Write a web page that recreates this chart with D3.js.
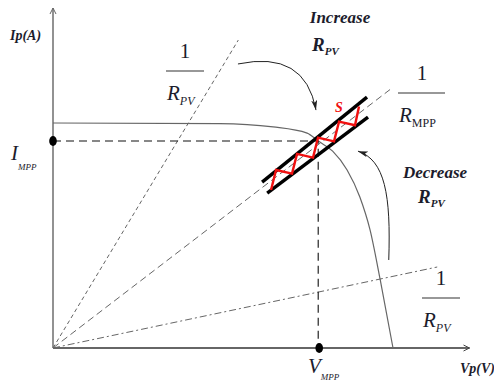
<!DOCTYPE html>
<html>
<head>
<meta charset="utf-8">
<script src="https://cdn.jsdelivr.net/npm/d3@7"></script>
<style>
  body { margin: 0; background: #fff; }
  svg { display: block; font-family: "Liberation Serif", "Times New Roman", serif; }
</style>
</head>
<body>
<svg id="chart" width="494" height="383"></svg>
<script>
// P-V operating curve (V in volts, I in amps)
const ivCurve = [[0, 8.0], [19.6, 7.98], [25.9, 7.86], [29.9, 7.64], [31.2, 7.36], [32.9, 7.0],
                 [34.6, 6.33], [36.1, 5.37], [37.3, 4.2], [38.5, 2.42], [40, 0]];
const mpp = [31.2, 7.36];
// load lines 1/R through the origin: far end of each
const loadLineEnds = [[21.8, 10.95], [39.65, 9.19], [45.2, 2.88]];
// the band around the MPP line and the zigzag of the tracker
const bandUpper = [[24.6, 5.9], [36.94, 8.92]];
const bandLower = [[25.2, 5.51], [37.06, 8.21]];
const zigzag = [[25.65, 5.62], [26.24, 6.33], [28.12, 6.2], [28.71, 6.9], [30.59, 6.77],
                [31.18, 7.48], [33.06, 7.35], [33.65, 8.05], [35.53, 7.92], [36.0, 8.59]];
// curved arrows
const increaseArrow = [[21.76, 10.1], [29.65, 10.6], [30.94, 8.46]];
const decreaseArrow = [[39.5, 3.13], [39.76, 5.44], [39.06, 6.68], [35.88, 7.0]];

const svg = d3.select('#chart');
const x = d3.scaleLinear().domain([0, 49]).range([53, 469.5]);
const y = d3.scaleLinear().domain([0, 12.09]).range([348, 8]);
const ink = '#1c1c2c';

const defs = svg.append('defs');
defs.append('marker')
    .attr('id', 'head')
    .attr('viewBox', '0 0 10 6')
    .attr('refX', 10).attr('refY', 3)
    .attr('markerUnits', 'userSpaceOnUse')
    .attr('markerWidth', 10).attr('markerHeight', 6)
    .attr('orient', 'auto')
  .append('path')
    .attr('d', 'M0,0 L10,3 L0,6 L2.5,3 Z')
    .attr('fill', '#222');

// axes
svg.append('line')
    .attr('x1', x(0)).attr('y1', y(0)).attr('x2', x(0)).attr('y2', y(12.09))
    .attr('stroke', '#777').attr('stroke-width', 1.6);
svg.append('path')
    .attr('d', `M${x(0) - 3},${y(12.09) + 6} L${x(0)},${y(12.09)} L${x(0) + 3},${y(12.09) + 6}`)
    .attr('fill', 'none').attr('stroke', '#666').attr('stroke-width', 1);
svg.append('line')
    .attr('x1', x(0)).attr('y1', y(0)).attr('x2', x(49)).attr('y2', y(0))
    .attr('stroke', '#333').attr('stroke-width', 1.4);
svg.append('path')
    .attr('d', `M${x(49) - 6},${y(0) - 3} L${x(49)},${y(0)} L${x(49) - 6},${y(0) + 3}`)
    .attr('fill', 'none').attr('stroke', '#444').attr('stroke-width', 1);

// load lines
const lineDash = ['4,3', '7,4', '7,3,2,3'];
svg.append('g')
  .selectAll('line')
  .data(loadLineEnds)
  .join('line')
    .attr('x1', x(0)).attr('y1', y(0))
    .attr('x2', d => x(d[0])).attr('y2', d => y(d[1]))
    .attr('stroke', '#666').attr('stroke-width', 1)
    .attr('stroke-dasharray', (d, i) => lineDash[i]);

// I-V curve
svg.append('path')
    .datum(ivCurve)
    .attr('d', d3.line().x(d => x(d[0])).y(d => y(d[1])).curve(d3.curveMonotoneX))
    .attr('fill', 'none').attr('stroke', '#666').attr('stroke-width', 1.2);

// MPP guides
svg.append('path')
    .attr('d', `M${x(0)},${y(mpp[1])} H${x(mpp[0])} V${y(0)}`)
    .attr('fill', 'none').attr('stroke', '#111').attr('stroke-width', 1.1)
    .attr('stroke-dasharray', '8,5');
svg.append('ellipse').attr('cx', x(0)).attr('cy', y(mpp[1])).attr('rx', 3.8).attr('ry', 5).attr('fill', '#000');
svg.append('ellipse').attr('cx', x(mpp[0]) + 1).attr('cy', y(0)).attr('rx', 3.8).attr('ry', 5).attr('fill', '#000');

// band + zigzag
svg.append('g')
  .selectAll('line')
  .data([bandUpper, bandLower])
  .join('line')
    .attr('x1', d => x(d[0][0])).attr('y1', d => y(d[0][1]))
    .attr('x2', d => x(d[1][0])).attr('y2', d => y(d[1][1]))
    .attr('stroke', '#000').attr('stroke-width', 3.4).attr('stroke-linecap', 'butt');
svg.append('path')
    .datum(zigzag)
    .attr('d', d3.line().x(d => x(d[0])).y(d => y(d[1])))
    .attr('fill', 'none').attr('stroke', '#f01010').attr('stroke-width', 2.4)
    .attr('stroke-linejoin', 'miter');

// curved arrows
const p1 = d3.path();
p1.moveTo(x(increaseArrow[0][0]), y(increaseArrow[0][1]));
p1.quadraticCurveTo(x(increaseArrow[1][0]), y(increaseArrow[1][1]), x(increaseArrow[2][0]), y(increaseArrow[2][1]));
svg.append('path').attr('d', p1.toString())
    .attr('fill', 'none').attr('stroke', '#222').attr('stroke-width', 1).attr('marker-end', 'url(#head)');
const p2 = d3.path();
p2.moveTo(x(decreaseArrow[0][0]), y(decreaseArrow[0][1]));
p2.bezierCurveTo(x(decreaseArrow[1][0]), y(decreaseArrow[1][1]), x(decreaseArrow[2][0]), y(decreaseArrow[2][1]),
                 x(decreaseArrow[3][0]), y(decreaseArrow[3][1]));
svg.append('path').attr('d', p2.toString())
    .attr('fill', 'none').attr('stroke', '#222').attr('stroke-width', 1).attr('marker-end', 'url(#head)');

// text helpers
function label(tx, ty, main, sub, opt) {
  const t = svg.append('text').attr('x', tx).attr('y', ty)
      .attr('fill', ink)
      .attr('font-size', opt.size)
      .attr('font-style', opt.italic ? 'italic' : 'normal')
      .attr('font-weight', opt.bold ? 'bold' : 'normal')
      .attr('text-anchor', opt.anchor || 'start');
  t.append('tspan').text(main);
  if (sub) {
    t.append('tspan').attr('dy', opt.subDy || 5).attr('font-size', opt.subSize)
      .attr('font-style', opt.subItalic === false ? 'normal' : 'italic')
      .text(sub);
  }
  return t;
}
function fraction(cx, lineY, x1, x2, den, sub, subItalic) {
  svg.append('text').attr('x', cx).attr('y', lineY - 13).attr('text-anchor', 'middle')
      .attr('font-size', 21).attr('fill', ink).text('1');
  svg.append('line').attr('x1', x1).attr('x2', x2).attr('y1', lineY).attr('y2', lineY)
      .attr('stroke', '#333').attr('stroke-width', 1.2);
  label(x1 + 1, lineY + 29, den, sub, {size: 21, italic: true, subSize: 12, subDy: 5, subItalic});
}

label(10, 40, 'Ip(A)', null, {size: 14, italic: true, bold: true});
label(11, 160, 'I', 'MPP', {size: 21, italic: true, subSize: 9, subDy: 10});
label(308, 373, 'V', 'MPP', {size: 21, italic: true, subSize: 9, subDy: 7});
label(460, 373, 'Vp(V)', null, {size: 14, italic: true, bold: true});

fraction(185, 71, 166, 204, 'R', 'PV');
fraction(422, 93, 398, 445, 'R', 'MPP', false);
fraction(441, 298, 422, 460, 'R', 'PV');

label(340, 23, 'Increase', null, {size: 17, italic: true, bold: true, anchor: 'middle'});
label(312, 51, 'R', 'PV', {size: 19, italic: true, bold: true, subSize: 11, subDy: 4});
label(435, 178, 'Decrease', null, {size: 17, italic: true, bold: true, anchor: 'middle'});
label(418, 203, 'R', 'PV', {size: 19, italic: true, bold: true, subSize: 11, subDy: 4});
svg.append('text').attr('x', 335).attr('y', 112).attr('font-size', 14)
    .attr('font-style', 'italic').attr('font-weight', 'bold').attr('fill', '#f01010').text('S');
</script>
</body>
</html>
